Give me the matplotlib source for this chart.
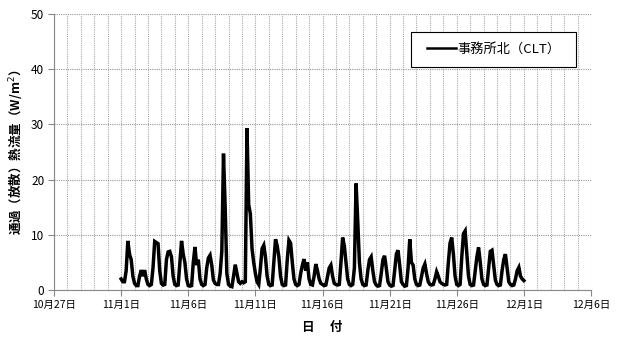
import numpy as np
import pandas as pd
import matplotlib
matplotlib.use("Agg")
import matplotlib.pyplot as plt
import matplotlib.dates as mdates
from matplotlib.patches import Rectangle

plt.rcParams['font.family'] = ['Noto Sans CJK JP', 'DejaVu Sans']

# -------------------------------------------------------
# DATA (3-hour readings from Nov 1 00:00)
# -------------------------------------------------------
start = "2014-11-01 00:00"
series_label = "事務所北（CLT）"

heat_flux = [
    2.0, 1.5, 1.5, 3.5, 8.9, 6.5, 5.5, 2.5,      # 11/1
    1.2, 0.8, 0.8, 2.5, 3.6, 2.5, 3.6, 2.0,      # 11/2
    1.0, 0.8, 1.0, 4.0, 8.8, 8.6, 8.4, 3.5,      # 11/3
    1.2, 0.9, 1.0, 5.5, 6.9, 7.0, 6.0, 2.5,      # 11/4
    1.0, 0.8, 0.9, 5.0, 8.9, 6.5, 5.0, 2.0,      # 11/5
    0.8, 0.7, 0.8, 5.0, 7.8, 4.5, 5.5, 2.0,      # 11/6
    1.0, 0.8, 1.0, 4.0, 5.8, 6.3, 4.5, 1.8,      # 11/7
    1.2, 1.0, 1.0, 3.0, 7.0, 24.7, 15.0, 3.0,    # 11/8
    1.0, 0.7, 0.6, 2.5, 4.6, 3.0, 1.5, 1.2,      # 11/9
    1.5, 1.3, 1.5, 29.3, 15.5, 13.8, 7.5, 5.0,   # 11/10
    3.0, 1.5, 1.0, 4.0, 7.5, 8.1, 6.0, 2.5,      # 11/11
    1.0, 0.8, 0.9, 5.0, 9.2, 8.0, 6.0, 2.5,      # 11/12
    1.0, 0.8, 0.9, 5.5, 9.0, 8.5, 5.0, 2.0,      # 11/13
    1.0, 0.8, 1.0, 3.0, 4.5, 5.6, 3.5, 5.0,      # 11/14
    2.0, 1.0, 0.9, 2.5, 4.7, 3.5, 2.0, 1.2,      # 11/15
    1.0, 0.8, 0.9, 2.5, 4.0, 4.5, 2.5, 1.2,      # 11/16
    1.0, 0.9, 1.0, 5.0, 9.5, 8.0, 5.0, 2.0,      # 11/17
    1.0, 0.8, 1.0, 4.0, 19.3, 12.5, 5.0, 2.0,    # 11/18
    1.0, 0.8, 0.9, 3.5, 5.5, 6.0, 3.5, 1.5,      # 11/19
    0.9, 0.7, 0.8, 3.0, 5.5, 6.2, 4.0, 1.5,      # 11/20
    0.9, 0.7, 0.8, 3.5, 6.5, 7.2, 4.5, 1.5,      # 11/21
    1.0, 0.7, 0.8, 4.0, 9.2, 5.0, 4.5, 2.0,      # 11/22
    1.0, 0.8, 0.9, 2.5, 4.0, 4.7, 3.0, 1.5,      # 11/23
    1.0, 0.9, 1.0, 2.0, 3.3, 2.5, 1.5, 1.2,      # 11/24
    1.0, 0.9, 1.0, 5.0, 8.5, 9.5, 6.5, 2.5,      # 11/25
    1.0, 0.8, 1.0, 6.0, 10.2, 10.7, 6.5, 2.5,    # 11/26
    1.0, 0.8, 0.9, 3.5, 6.0, 7.7, 5.0, 2.0,      # 11/27
    1.0, 0.8, 0.9, 4.0, 7.0, 7.2, 4.5, 1.8,      # 11/28
    1.0, 0.8, 0.9, 3.5, 5.5, 6.5, 4.0, 1.5,      # 11/29
    1.0, 0.8, 0.9, 2.0, 3.5, 4.1, 2.5, 2.0,      # 11/30
    1.7,                                         # 12/1
]

times = pd.date_range(start, periods=len(heat_flux), freq="3h")

x_start = pd.Timestamp("2014-10-27")
x_end = pd.Timestamp("2014-12-06")
major_days = pd.date_range(x_start, x_end, freq="5D")
minor_days = pd.date_range(x_start, x_end, freq="D")
y_ticks = [0, 10, 20, 30, 40, 50]

# -------------------------------------------------------
# PLOT
# -------------------------------------------------------
fig = plt.figure(figsize=(6.25, 3.38), dpi=100)
ax = fig.add_axes([0.0864, 0.142, 0.8592, 0.8166])

ax.plot(times, heat_flux, color="black", lw=2.5, solid_joinstyle="miter")

ax.set_xlim(x_start, x_end)
ax.set_ylim(0, 50)
ax.set_xticks(major_days)
ax.set_xticks(minor_days, minor=True)
ax.set_xticklabels([f"{d.month}月{d.day}日" for d in major_days], fontsize=7.5)
ax.set_yticks(y_ticks)
ax.set_yticklabels([str(v) for v in y_ticks], fontsize=8.5)

ax.grid(which="both", axis="x", color="#aaaaaa", linestyle=(0, (1, 1)), lw=0.8)
ax.grid(which="major", axis="y", color="#999999", linestyle=(0, (1, 1)), lw=0.8)
ax.set_axisbelow(True)

for side in ["top", "right"]:
    ax.spines[side].set_visible(False)
for side in ["left", "bottom"]:
    ax.spines[side].set_color("#888888")
    ax.spines[side].set_linewidth(0.8)
ax.tick_params(which="major", length=4, color="#888888", pad=3)
ax.tick_params(which="minor", length=0)

ax.set_ylabel("通過（放散）熱流量（W/m$^2$）", fontsize=9, fontweight="bold", labelpad=5)
ax.set_xlabel("日　 付", fontsize=9, fontweight="bold", labelpad=8)

# legend box
ax.add_patch(Rectangle((0.665, 0.808), 0.307, 0.127, transform=ax.transAxes,
                       facecolor="white", edgecolor="black", lw=0.8, zorder=5))
leg = ax.legend([series_label], loc="center", bbox_to_anchor=(0.8185, 0.8715),
                frameon=False, fontsize=9.5, handlelength=2.2, handletextpad=0.1)
leg.set_zorder(6)
leg.get_lines()[0].set_linewidth(1.8)

fig.savefig("out.png", dpi=100)
